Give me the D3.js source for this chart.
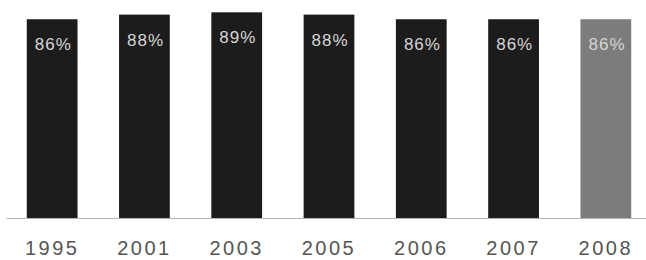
<!DOCTYPE html>
<html>
<head>
<meta charset="utf-8">
<script src="https://cdn.jsdelivr.net/npm/d3@7"></script>
<style>
  body { margin: 0; background: #fff; }
  svg { display: block; }
</style>
</head>
<body>
<div id="chart"></div>
<script>
// chart data
const years = ["1995", "2001", "2003", "2005", "2006", "2007", "2008"];
const shares = [86, 88, 89, 88, 86, 86, 86];
const valueLabels = ["86%", "88%", "89%", "88%", "86%", "86%", "86%"];

const width = 646,
  height = 260,
  baseline = 218;

const svg = d3
  .select("#chart")
  .append("svg")
  .attr("width", width)
  .attr("height", height);

// x scale - one band per year
const x = d3
  .scaleBand()
  .domain(years)
  .range([6, 652])
  .paddingInner(0.45)
  .paddingOuter(0.225);

// y scale
const y = d3.scaleLinear().domain([0, 90]).range([baseline, 10]);

// bars
svg
  .selectAll("rect.bar")
  .data(years)
  .enter()
  .append("rect")
  .attr("class", "bar")
  .attr("x", (d) => x(d))
  .attr("width", x.bandwidth())
  .attr("y", (d, i) => y(shares[i]))
  .attr("height", (d, i) => baseline - y(shares[i]))
  .attr("fill", (d, i) => (i === years.length - 1 ? "#7c7c7c" : "#1c1c1c"));

// value labels inside the bars
svg
  .selectAll("text.value")
  .data(years)
  .enter()
  .append("text")
  .attr("class", "value")
  .attr("x", (d) => x(d) + 8)
  .attr("y", (d, i) => y(shares[i]) + 31)
  .attr("fill", "#d6d6d6")
  .style("font-family", "'Liberation Sans', Arial, sans-serif")
  .style("font-size", "17px")
  .style("letter-spacing", "1px")
  .text((d, i) => valueLabels[i]);

// x axis
const xAxis = svg
  .append("g")
  .attr("transform", "translate(0," + baseline + ")")
  .call(d3.axisBottom(x).tickSize(0).tickPadding(23));

xAxis.select(".domain").attr("stroke", "#b5b5b5").attr("stroke-width", 1.2);

xAxis
  .selectAll("text")
  .attr("fill", "#555")
  .style("font-family", "'Liberation Sans', Arial, sans-serif")
  .style("font-size", "20px")
  .style("letter-spacing", "2.5px");
</script>
</body>
</html>
